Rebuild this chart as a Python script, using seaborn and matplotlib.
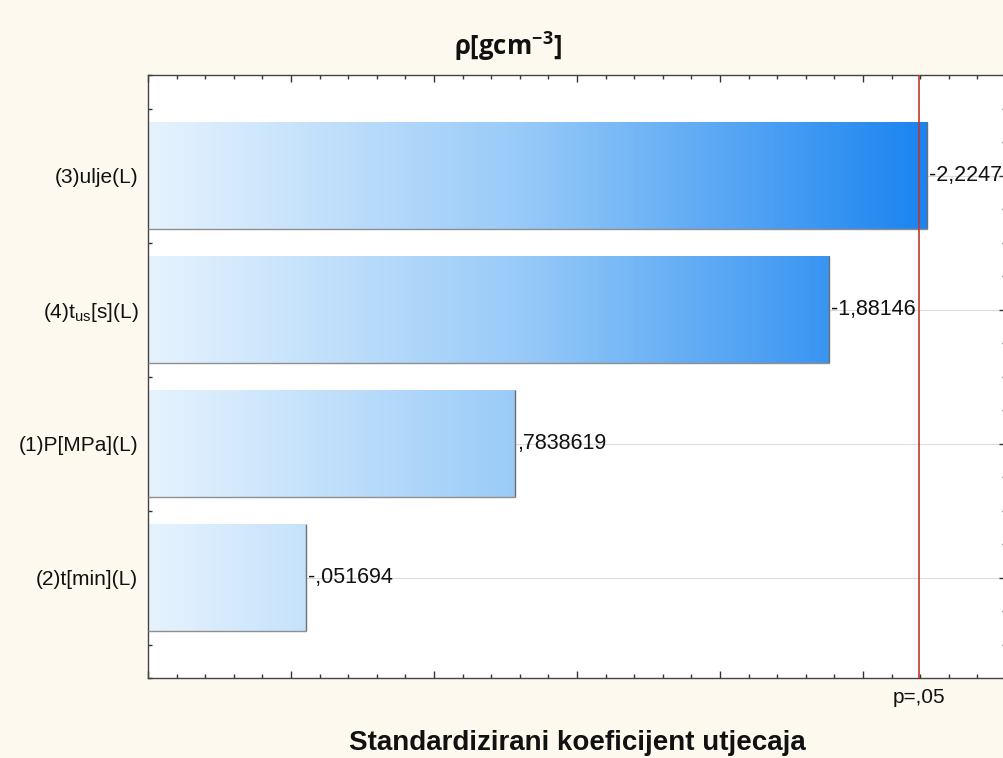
import numpy as np
import pandas as pd
import matplotlib
matplotlib.use("Agg")
import matplotlib.pyplot as plt
import seaborn as sns
from matplotlib.colors import LinearSegmentedColormap, Normalize
from matplotlib.ticker import MultipleLocator
import matplotlib.transforms as mtransforms

# ---------------- data ----------------
factors = ["(3)ulje(L)", r"(4)t$_{\mathrm{us}}$[s](L)", "(1)P[MPa](L)", "(2)t[min](L)"]
effects = [-2.2247, -1.88146, 0.7838619, -0.051694]
value_labels = ["-2,2247", "-1,88146", ",7838619", "-,051694"]
p_crit = 2.1966
p_label = "p=,05"
title = r"ρ[gcm$^{\mathbf{-3}}$]"
x_label = "Standardizirani koeficijent utjecaja"
x_range = (-0.5, 2.5)

# ---------------- style ----------------
sns.set_theme(style="white")
plt.rcParams["font.family"] = ["Liberation Sans", "DejaVu Sans"]
plt.rcParams["mathtext.fontset"] = "custom"
plt.rcParams["mathtext.rm"] = "Liberation Sans"
plt.rcParams["mathtext.it"] = "Liberation Sans:italic"
plt.rcParams["mathtext.bf"] = "Open Sans:bold"

W, H = 1004, 758
fig = plt.figure(figsize=(W / 100, H / 100), dpi=100, facecolor="#fdf9ef")
ax = fig.add_axes([148 / W, 1 - 678 / H, (1006 - 148) / W, (678 - 75) / H])
ax.set_facecolor("white")

df = pd.DataFrame({"factor": factors, "effect": np.abs(effects)})
sns.barplot(data=df, x="effect", y="factor", orient="h", width=0.8,
            color="white", saturation=1, ax=ax, zorder=2)

cmap = LinearSegmentedColormap.from_list(
    "blu", [(0.0, "#e6f3fe"), (0.48, "#98caf8"), (1.0, "#1a84f0")])
norm = Normalize(vmin=x_range[0], vmax=max(np.abs(effects)))
grad = np.linspace(x_range[0], x_range[1], 400).reshape(1, -1)

container = ax.containers[0]
for p in container.patches:
    end = p.get_x() + p.get_width()
    p.set_x(x_range[0])
    p.set_width(end - x_range[0])
    p.set_facecolor("none")
    p.set_edgecolor("none")
    y0, h = p.get_y(), p.get_height()
    im = ax.imshow(grad, extent=(x_range[0], x_range[1], y0 + h, y0),
                   aspect="auto", cmap=cmap, norm=norm, zorder=2,
                   interpolation="bilinear")
    im.set_clip_path(p)
    # shadow edges (bottom and right)
    ax.plot([x_range[0], end], [y0 + h, y0 + h], color="#8f8f8f", lw=1.0, zorder=3,
            solid_capstyle="butt")
    ax.plot([end, end], [y0, y0 + h], color="#6f6f6f", lw=1.0, zorder=3,
            solid_capstyle="butt")

ax.bar_label(container, labels=value_labels, padding=1.5, fontsize=15.5, color="#111111")

ax.set_xlim(*x_range)
ax.set_ylim(3.75, -0.75)

ax.axvline(p_crit, color="#c0392b", lw=1.2, zorder=4)
trans = mtransforms.blended_transform_factory(ax.transData, ax.transAxes)
ax.text(p_crit, -0.032, p_label, transform=trans, ha="center", va="center",
        fontsize=15, color="#111111")

ax.grid(axis="y", color="#dcdcdc", lw=0.8)
ax.set_axisbelow(True)

ax.xaxis.set_major_locator(MultipleLocator(0.5))
ax.xaxis.set_minor_locator(MultipleLocator(0.1))
ax.yaxis.set_minor_locator(MultipleLocator(0.25))
ax.tick_params(axis="both", which="both", direction="in", top=True, right=True,
               bottom=True, left=True, color="#333333", width=1)
ax.tick_params(axis="both", which="major", length=5)
ax.tick_params(axis="both", which="minor", length=3)
ax.tick_params(axis="x", labelbottom=False)
ax.tick_params(axis="y", labelsize=15, pad=7, labelcolor="#111111")

for s in ax.spines.values():
    s.set_color("#444444")
    s.set_linewidth(1.0)

ax.set_ylabel("")
ax.set_xlabel(x_label, fontsize=20, fontweight="bold", color="#111111", labelpad=34)

fig.text(508 / W, 1 - 46 / H, title, ha="center", va="center", fontsize=18.5,
         fontweight="bold", family=["Open Sans", "DejaVu Sans"], color="#111111")

fig.savefig("out.png", dpi=100, facecolor=fig.get_facecolor())
